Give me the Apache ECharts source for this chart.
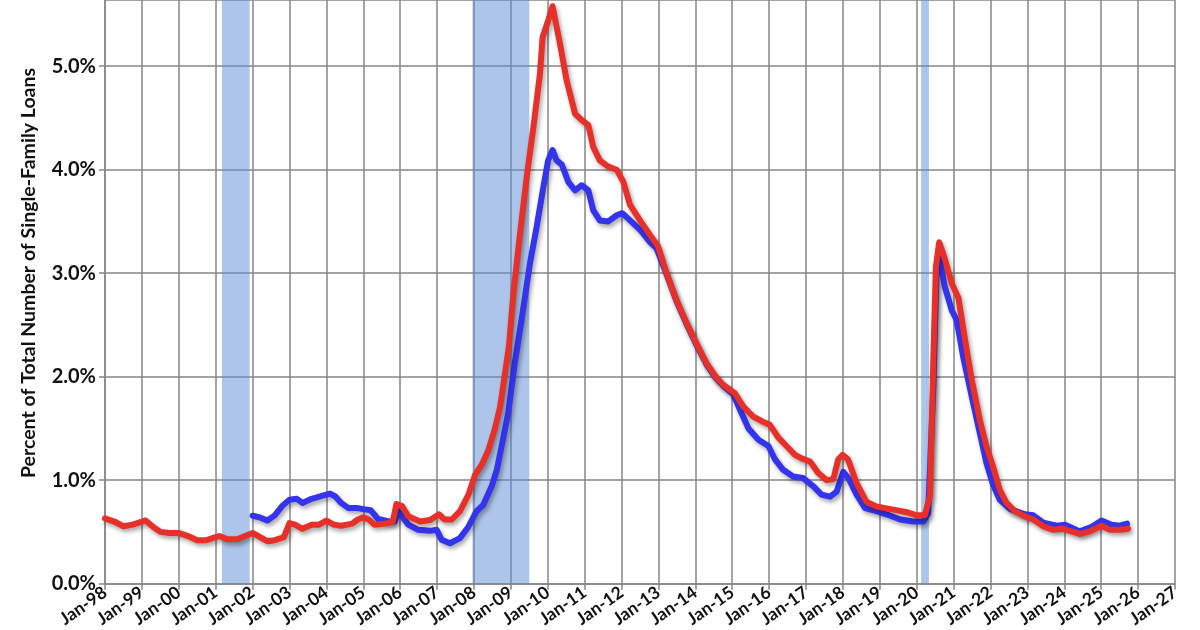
<!DOCTYPE html>
<html>
<head>
<meta charset="utf-8">
<script src="https://cdn.jsdelivr.net/npm/echarts@6/dist/echarts.min.js"></script>
<style>
  html, body { margin: 0; padding: 0; background: #fff; }
  #chart { width: 1200px; height: 630px; }
</style>
</head>
<body>
<div id="chart"></div>
<script>
// ---- Data (decimal years, percent) ----
const redT = [1998.0,1998.25,1998.5,1998.75,1999.0,1999.1,1999.3,1999.5,1999.75,2000.0,2000.25,2000.5,2000.75,2001.0,2001.1,2001.3,2001.6,2001.8,2002.0,2002.2,2002.4,2002.6,2002.85,2003.0,2003.15,2003.35,2003.6,2003.8,2004.0,2004.2,2004.4,2004.7,2004.85,2005.0,2005.15,2005.3,2005.6,2005.8,2005.9,2006.05,2006.22,2006.54,2006.81,2007.05,2007.2,2007.4,2007.62,2007.85,2008.03,2008.21,2008.39,2008.57,2008.71,2008.84,2008.95,2009.07,2009.25,2009.43,2009.61,2009.79,2009.86,2010.01,2010.13,2010.33,2010.51,2010.74,2010.92,2011.1,2011.23,2011.41,2011.64,2011.87,2012.05,2012.23,2012.5,2012.77,2012.99,2013.22,2013.49,2013.76,2014.03,2014.3,2014.55,2014.76,2015.07,2015.3,2015.57,2015.8,2016.02,2016.25,2016.47,2016.7,2016.88,2017.11,2017.33,2017.56,2017.74,2017.87,2017.99,2018.14,2018.37,2018.64,2018.91,2019.14,2019.45,2019.73,2020.0,2020.22,2020.36,2020.45,2020.52,2020.61,2020.76,2020.95,2021.13,2021.31,2021.49,2021.71,2021.89,2022.07,2022.25,2022.435,2022.66,2022.93,2023.16,2023.43,2023.7,2023.97,2024.2,2024.42,2024.69,2025.01,2025.24,2025.51,2025.73];
const redV = [0.63,0.60,0.555,0.57,0.60,0.61,0.55,0.50,0.49,0.49,0.46,0.42,0.42,0.45,0.46,0.43,0.43,0.46,0.49,0.45,0.41,0.42,0.45,0.585,0.57,0.53,0.57,0.57,0.61,0.57,0.56,0.58,0.62,0.64,0.62,0.57,0.58,0.60,0.77,0.75,0.65,0.60,0.615,0.67,0.62,0.62,0.70,0.86,1.05,1.15,1.29,1.50,1.71,2.03,2.30,2.81,3.385,3.93,4.41,4.93,5.28,5.44,5.58,5.22,4.865,4.54,4.48,4.43,4.22,4.09,4.03,4.00,3.88,3.66,3.51,3.37,3.26,3.00,2.74,2.52,2.32,2.13,2.00,1.92,1.84,1.71,1.615,1.57,1.535,1.41,1.33,1.245,1.21,1.18,1.07,1.00,1.01,1.20,1.245,1.20,0.97,0.79,0.746,0.73,0.71,0.69,0.66,0.66,0.85,2.15,3.06,3.30,3.14,2.90,2.76,2.355,1.97,1.58,1.325,1.13,0.907,0.78,0.70,0.65,0.62,0.555,0.52,0.53,0.505,0.48,0.505,0.56,0.52,0.52,0.53];

const blueT = [2002.0,2002.2,2002.4,2002.6,2002.8,2003.0,2003.2,2003.35,2003.6,2003.9,2004.1,2004.25,2004.4,2004.6,2004.85,2005.0,2005.2,2005.4,2005.7,2005.85,2005.95,2006.22,2006.49,2006.81,2006.99,2007.12,2007.35,2007.62,2007.85,2008.07,2008.25,2008.48,2008.62,2008.75,2008.93,2009.11,2009.29,2009.52,2009.7,2009.88,2010.01,2010.13,2010.24,2010.38,2010.56,2010.74,2010.92,2011.1,2011.23,2011.41,2011.64,2011.87,2012.02,2012.23,2012.5,2012.77,2012.95,2013.22,2013.49,2013.76,2014.03,2014.3,2014.55,2014.76,2015.03,2015.21,2015.44,2015.71,2015.98,2016.16,2016.38,2016.65,2016.92,2017.2,2017.42,2017.65,2017.83,2018.01,2018.15,2018.37,2018.6,2018.91,2019.18,2019.55,2019.9,2020.18,2020.31,2020.45,2020.54,2020.61,2020.76,2020.95,2021.08,2021.26,2021.49,2021.71,2021.89,2022.07,2022.25,2022.53,2022.93,2023.16,2023.43,2023.79,2024.02,2024.42,2024.74,2025.01,2025.28,2025.51,2025.7];
const blueV = [0.656,0.64,0.61,0.66,0.75,0.81,0.82,0.78,0.82,0.85,0.87,0.84,0.78,0.73,0.73,0.72,0.71,0.625,0.60,0.60,0.70,0.57,0.52,0.51,0.52,0.425,0.39,0.44,0.55,0.70,0.76,0.94,1.10,1.33,1.65,2.14,2.55,3.10,3.45,3.83,4.09,4.19,4.09,4.05,3.88,3.80,3.85,3.80,3.61,3.51,3.50,3.56,3.58,3.51,3.42,3.30,3.24,2.99,2.73,2.51,2.31,2.12,1.99,1.91,1.83,1.68,1.50,1.39,1.33,1.20,1.10,1.035,1.02,0.94,0.86,0.84,0.89,1.08,1.02,0.86,0.73,0.70,0.67,0.62,0.60,0.60,0.68,1.90,3.06,3.17,2.87,2.64,2.55,2.19,1.81,1.455,1.165,0.955,0.81,0.72,0.67,0.66,0.59,0.56,0.57,0.505,0.55,0.61,0.57,0.56,0.58];

// Recessions (start, end) in decimal years
const recessions = [[2001.17, 2001.92], [2007.96, 2009.5], [2020.12, 2020.33]];

const yTicks = [0, 1, 2, 3, 4, 5];
const yTitle = 'Percent of Total Number of Single-Family Loans';

// ---- Chart ----
const pair = (t, v) => t.map((x, i) => [x, v[i]]);
const chart = echarts.init(document.getElementById('chart'), null, { renderer: 'canvas' });
const gridColor = '#868686';
const font = 'Lato, "Open Sans", sans-serif';

const lineShadow = { shadowColor: 'rgba(0,0,0,0.35)', shadowBlur: 4, shadowOffsetX: 2, shadowOffsetY: 3 };

chart.setOption({
  animation: false,
  backgroundColor: '#fff',
  grid: { left: 105, right: 25, top: 0, bottom: 46 },
  xAxis: {
    type: 'value', min: 1998, max: 2027, interval: 1,
    axisLine: { lineStyle: { color: gridColor, width: 1.5 } },
    axisTick: { length: 6, lineStyle: { color: gridColor, width: 1.5 } },
    splitLine: { show: true, lineStyle: { color: gridColor, width: 1.5 } },
    axisLabel: {
      rotate: 35, margin: 7, fontFamily: font, fontWeight: 'bold', fontSize: 17.5, color: '#111',
      formatter: v => 'Jan-' + String(Math.round(v) % 100).padStart(2, '0')
    }
  },
  yAxis: {
    type: 'value', min: yTicks[0], max: 5.64, interval: 1,
    axisLine: { show: true, lineStyle: { color: gridColor, width: 1.5 } },
    axisTick: { show: true, length: 6, lineStyle: { color: gridColor, width: 1.5 } },
    splitLine: { show: true, lineStyle: { color: gridColor, width: 1.5 } },
    axisLabel: {
      showMaxLabel: false, margin: 9, fontFamily: font, fontWeight: 'bold', fontSize: 20, color: '#111',
      formatter: v => v.toFixed(1) + '%'
    }
  },
  graphic: [{
    type: 'text', x: 29, y: 273, rotation: Math.PI / 2,
    style: { text: yTitle, fontFamily: font, fontWeight: 'bold', fontSize: 19.5, fill: '#111', align: 'center', verticalAlign: 'middle' }
  }],
  series: [
    {
      name: 'blue', type: 'line', data: pair(blueT, blueV), showSymbol: false,
      lineStyle: Object.assign({ color: '#3434ee', width: 6, join: 'round', cap: 'round' }, lineShadow),
      markArea: {
        silent: true,
        itemStyle: { color: 'rgba(90,140,210,0.5)' },
        data: recessions.map(r => [{ xAxis: r[0] }, { xAxis: r[1] }])
      },
      z: 3
    },
    {
      name: 'red', type: 'line', data: pair(redT, redV), showSymbol: false,
      lineStyle: Object.assign({ color: '#e8302a', width: 6, join: 'round', cap: 'round' }, lineShadow),
      z: 4
    }
  ]
});
</script>
</body>
</html>
